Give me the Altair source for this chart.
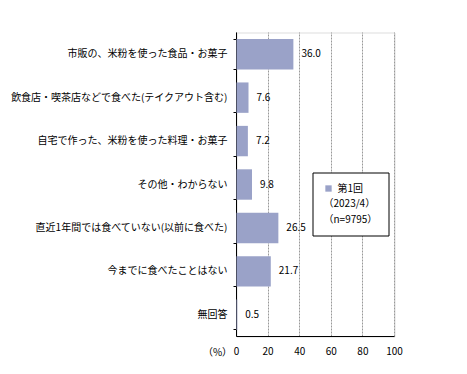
import altair as alt
import pandas as pd

categories = [
    "市販の、米粉を使った食品・お菓子",
    "飲食店・喫茶店などで食べた(テイクアウト含む)",
    "自宅で作った、米粉を使った料理・お菓子",
    "その他・わからない",
    "直近1年間では食べていない(以前に食べた)",
    "今までに食べたことはない",
    "無回答",
]
values = [36.0, 7.6, 7.2, 9.8, 26.5, 21.7, 0.5]
series = ["第1回"] * len(categories)
x_ticks = [0, 20, 40, 60, 80, 100]

df = pd.DataFrame({"cat": categories, "val": values, "series": series})

FONT = "Noto Sans CJK JP"
BAR = "#9AA2C8"

y_enc = alt.Y(
    "cat:N",
    sort=categories,
    title=None,
    scale=alt.Scale(paddingInner=0.3, paddingOuter=0.15),
    axis=alt.Axis(
        labelFont=FONT,
        labelFontSize=10,
        labelColor="black",
        labelPadding=6,
        tickSize=3,
        tickColor="black",
        tickBand="extent",
        domainColor="black",
        grid=False,
        labelLimit=300,
        translate=0,
    ),
)

x_enc = alt.X(
    "val:Q",
    scale=alt.Scale(domain=[0, 100], nice=False),
    axis=alt.Axis(
        values=x_ticks,
        title="（%）",
        titleFont=FONT,
        titleFontSize=10,
        titleFontWeight="normal",
        titleX=-19,
        titleY=16,
        titleAlign="center",
        titleBaseline="middle",
        labelFont=FONT,
        labelFontSize=10,
        labelColor="black",
        labelPadding=10,
        labelOverlap=False,
        labelFlush=False,
        ticks=False,
        domainColor="black",
        grid=True,
        gridColor="#999999",
        gridDash=[2, 1],
        gridWidth=1,
        translate=0,
    ),
)

base = alt.Chart(df).encode(y=y_enc, x=x_enc)

bars = base.mark_bar(color=BAR).encode(
    color=alt.Color(
        "series:N",
        scale=alt.Scale(range=[BAR]),
        legend=alt.Legend(
            orient="none",
            legendX=76,
            legendY=140,
            title=["（2023/4）", "（n=9795）"],
            titleOrient="bottom",
            titleFont=FONT,
            titleFontSize=10,
            titleFontWeight="normal",
            titleColor="black",
            titleAnchor="start",
            titleAlign="left",
            titleLineHeight=16,
            titlePadding=5,
            labelFont=FONT,
            labelFontSize=10,
            labelColor="black",
            symbolType="square",
            symbolSize=40,
            symbolStrokeWidth=0,
            fillColor="white",
            strokeColor="black",
            padding=11,
        ),
    ),
)

labels = base.mark_text(
    align="left", baseline="middle", dx=8, font=FONT, fontSize=10, color="black"
).encode(
    text=alt.Text("val:Q", format=".1f"),
)

chart = (
    alt.layer(bars, labels)
    .properties(
        width=158,
        height=304,
        autosize=alt.AutoSizeParams(type="none"),
        padding={"left": 228.5, "top": 24.5, "right": 60, "bottom": 30},
    )
    .configure_view(stroke="black", strokeWidth=1)
    .configure(background="white")
)

chart.save("out.html", embed_options={"renderer": "svg", "actions": False})
